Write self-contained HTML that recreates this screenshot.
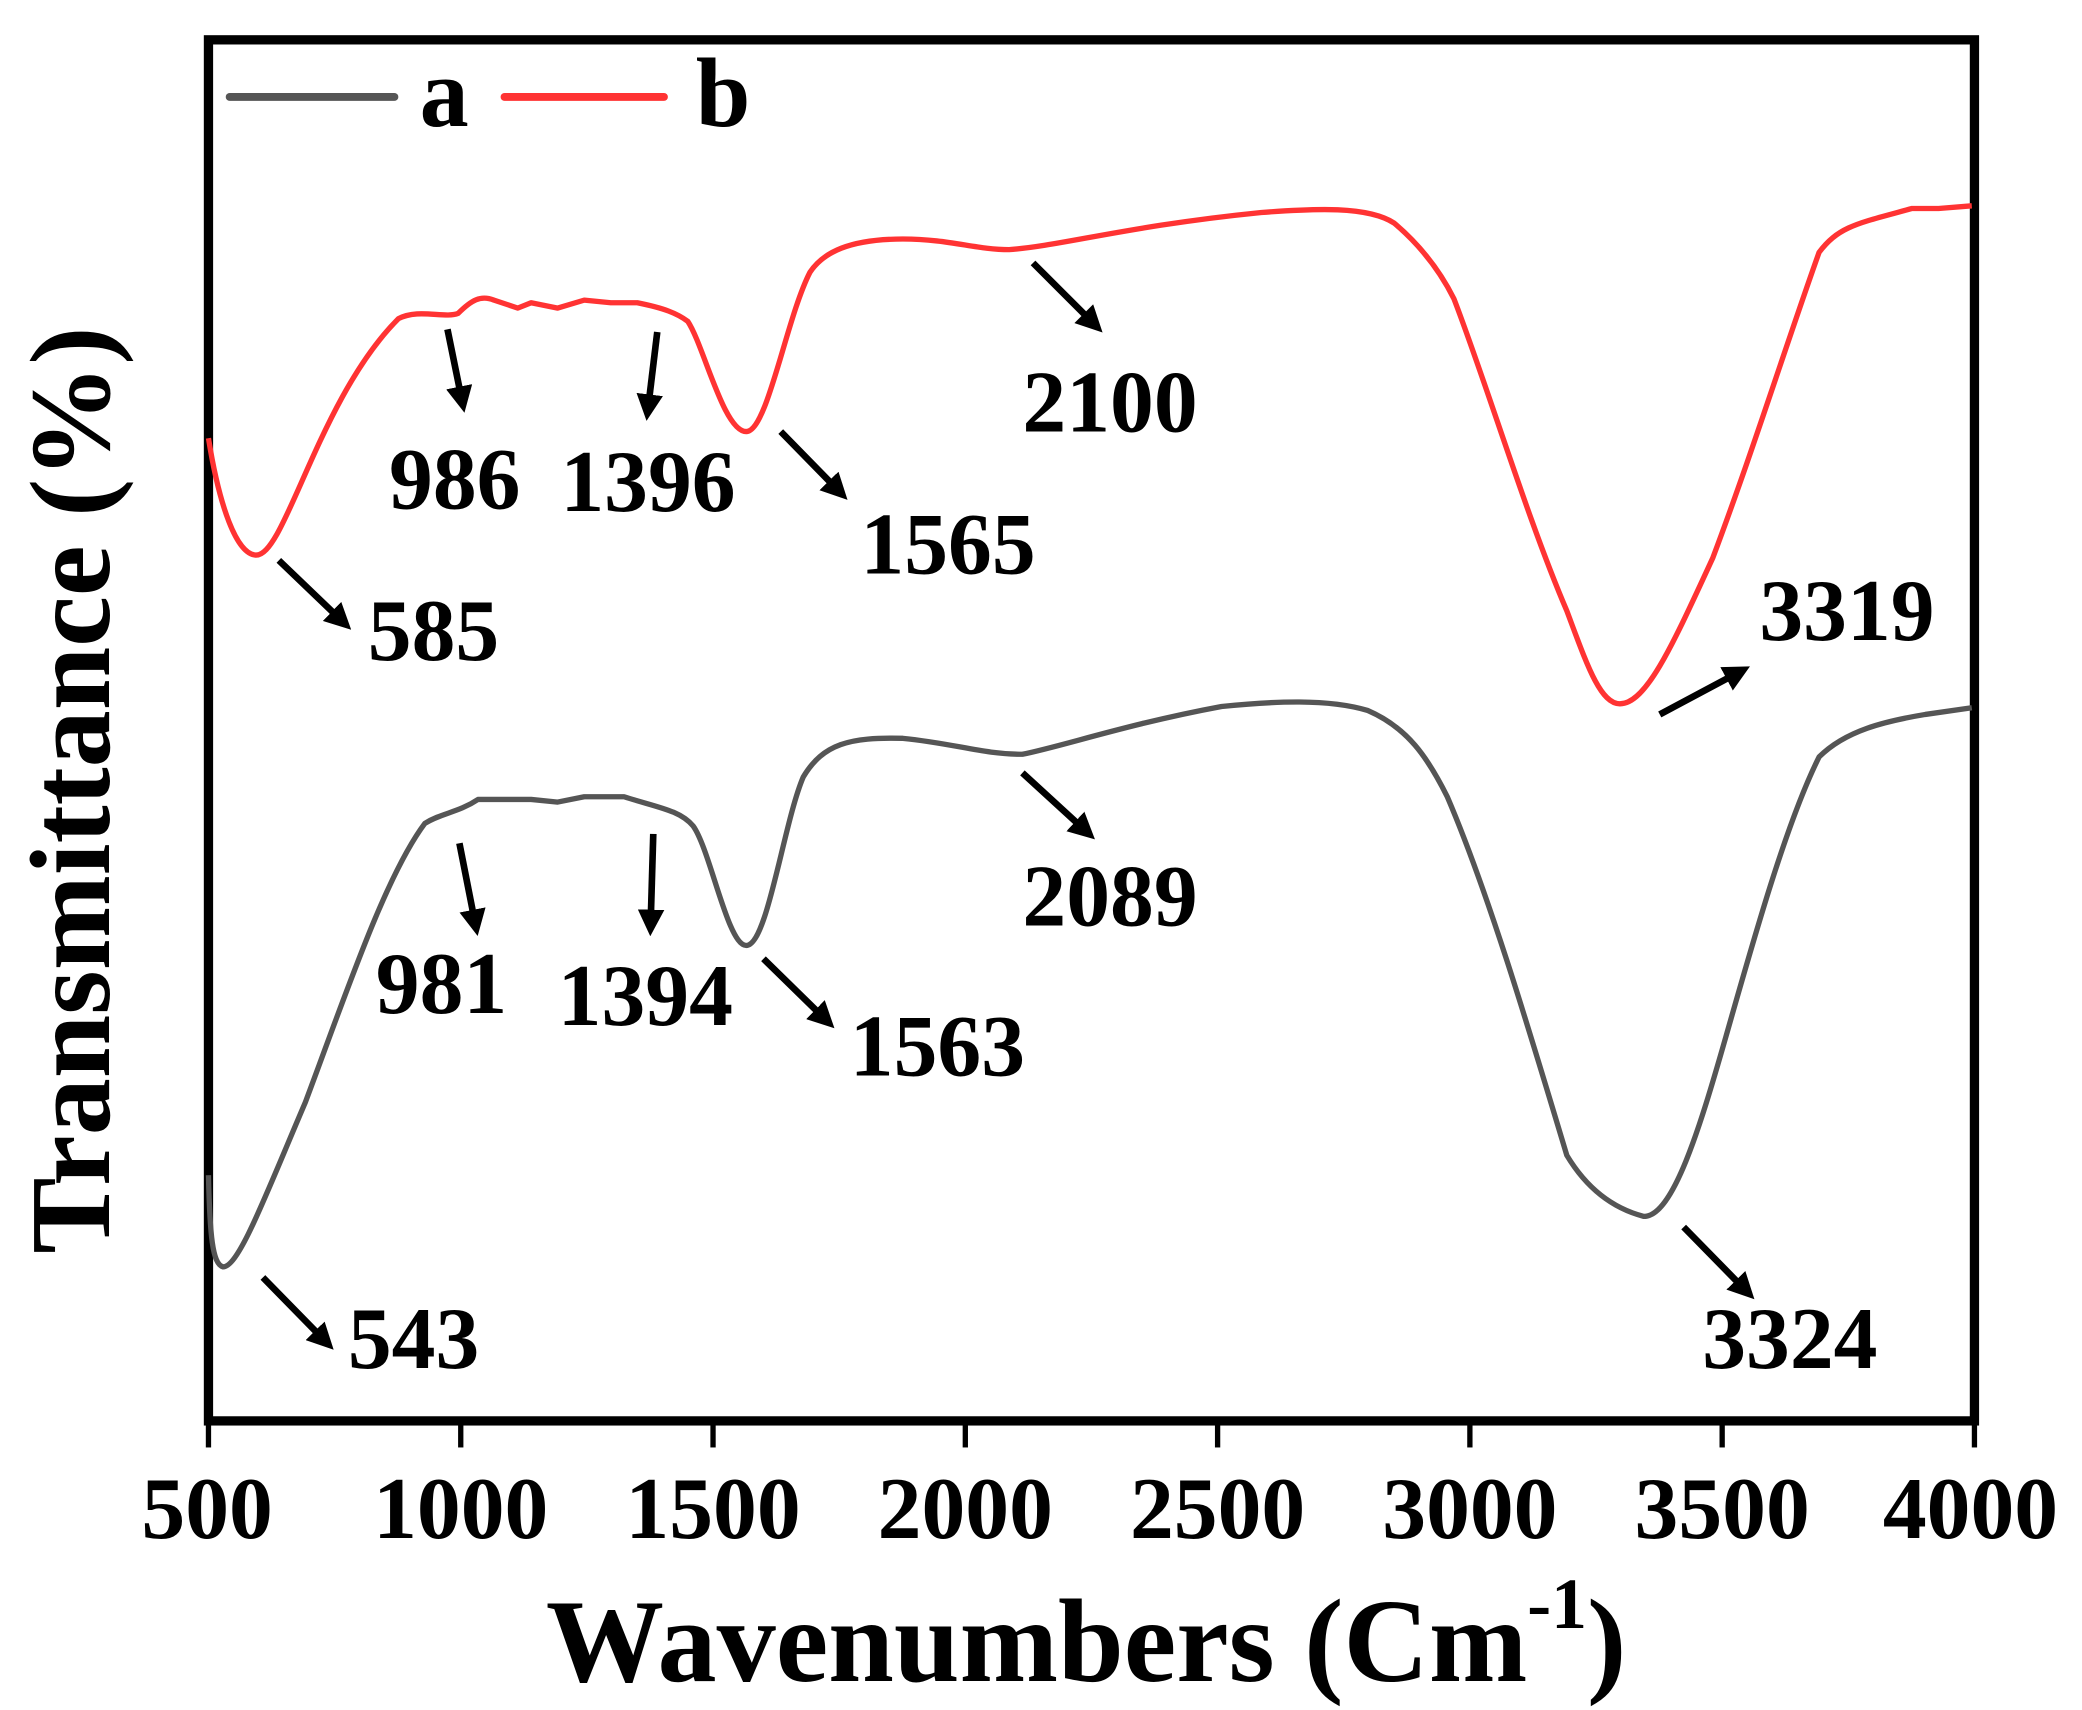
<!DOCTYPE html>
<html><head><meta charset="utf-8"><style>html,body{margin:0;padding:0;background:#fff}svg{display:block}</style></head><body>
<svg width="2082" height="1710" viewBox="0 0 1568 1287.7" preserveAspectRatio="none" xmlns="http://www.w3.org/2000/svg" font-family="Liberation Serif, serif" font-weight="bold">
<defs><marker id="ah" markerWidth="4" markerHeight="4" refX="2.2" refY="2" orient="auto" markerUnits="strokeWidth"><path d="M0,0 L4,2 L0,4 z" fill="#000"/></marker></defs>
<rect x="157" y="30" width="1330" height="1040" fill="none" stroke="#000" stroke-width="7"/>
<g stroke="#000" stroke-width="4">
<line x1="157" y1="1070" x2="157" y2="1090"/><line x1="347" y1="1070" x2="347" y2="1090"/><line x1="537" y1="1070" x2="537" y2="1090"/><line x1="727" y1="1070" x2="727" y2="1090"/><line x1="917" y1="1070" x2="917" y2="1090"/><line x1="1107" y1="1070" x2="1107" y2="1090"/><line x1="1297" y1="1070" x2="1297" y2="1090"/><line x1="1487" y1="1070" x2="1487" y2="1090"/>
</g>
<g font-size="66" text-anchor="middle">
<text x="156" y="1158">500</text><text x="347" y="1158">1000</text><text x="537" y="1158">1500</text><text x="727" y="1158">2000</text><text x="917" y="1158">2500</text><text x="1107" y="1158">3000</text><text x="1297" y="1158">3500</text><text x="1484" y="1158">4000</text>
</g>
<text x="818" y="1266" font-size="89" text-anchor="middle">Wavenumbers (Cm<tspan font-size="54" dy="-40">-1</tspan><tspan dy="40">)</tspan></text>
<text transform="translate(82,595) rotate(-90)" font-size="86" text-anchor="middle">Transmittance (%)</text>
<line x1="173" y1="73" x2="297" y2="73" stroke="#555" stroke-width="6" stroke-linecap="round"/>
<text x="316" y="95" font-size="74">a</text>
<line x1="380" y1="73" x2="500" y2="73" stroke="#f33" stroke-width="6" stroke-linecap="round"/>
<text x="524" y="95" font-size="74">b</text>
<path fill="none" stroke="#f33" stroke-width="4" stroke-linejoin="round" d="M157,330 C165,380 178,418 193,418 C215,418 240,300 300,240 C315,232 335,240 345,236 C355,226 362,222 372,226 L390,232 L400,228 L420,232 L440,226 L460,228 L480,228 C500,232 510,236 518,242 C530,260 545,325 562,325 C578,325 592,240 610,205 C620,190 640,180 680,180 C715,180 735,188 760,188 C800,185 850,170 950,160 C990,157 1030,155 1050,168 C1070,185 1085,205 1095,225 C1120,290 1150,390 1180,460 C1195,500 1205,530 1220,530 C1240,530 1260,485 1290,420 C1320,340 1345,260 1370,190 C1385,170 1400,168 1440,157 L1460,157 L1485,155"/>
<path fill="none" stroke="#555" stroke-width="4" stroke-linejoin="round" d="M157,885 C158,930 160,952 168,954 C180,954 200,900 230,830 C260,750 290,660 320,620 C333,612 345,612 360,602 L400,602 L420,604 L440,600 L470,600 C495,608 512,610 522,622 C535,640 548,712 562,712 C578,712 590,620 605,585 C620,560 640,555 680,556 C720,560 740,568 770,568 C800,562 850,545 920,532 C960,528 1000,526 1030,535 C1060,548 1075,570 1090,600 C1120,670 1150,770 1180,870 C1195,895 1215,910 1238,916 C1260,916 1280,850 1300,780 C1320,710 1345,620 1370,570 C1390,550 1420,543 1450,538 L1485,533"/>
<g stroke="#000" stroke-width="5" marker-end="url(#ah)">
<line x1="210" y1="422" x2="258" y2="468"/><line x1="337" y1="248" x2="348" y2="302"/><line x1="495" y1="250" x2="488" y2="308"/><line x1="588" y1="325" x2="632" y2="370"/><line x1="778" y1="198" x2="824" y2="244"/><line x1="1250" y1="538" x2="1310" y2="506"/>
<line x1="346" y1="635" x2="358" y2="696"/><line x1="492" y1="628" x2="490" y2="696"/><line x1="575" y1="722" x2="622" y2="768"/><line x1="770" y1="582" x2="818" y2="626"/><line x1="198" y1="962" x2="245" y2="1010"/><line x1="1268" y1="924" x2="1315" y2="972"/>
</g>
<g font-size="66">
<text x="277" y="497">585</text><text x="293" y="383">986</text><text x="422" y="385">1396</text><text x="648" y="432">1565</text><text x="770" y="325">2100</text><text x="1325" y="482">3319</text>
<text x="283" y="763">981</text><text x="420" y="772">1394</text><text x="640" y="810">1563</text><text x="770" y="697">2089</text><text x="262" y="1030">543</text><text x="1282" y="1030">3324</text>
</g>
</svg>
</body></html>
